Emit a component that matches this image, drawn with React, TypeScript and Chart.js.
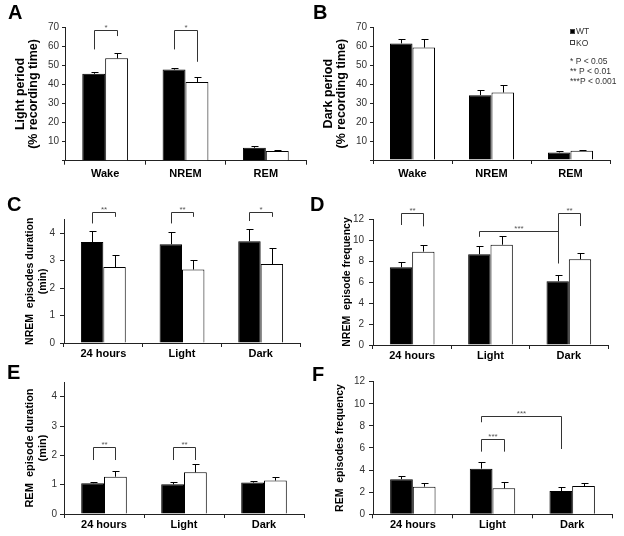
import React, { useEffect, useRef } from 'react';
import { Chart, registerables } from 'chart.js';

Chart.register(...registerables);

const FONT = '"Liberation Sans", Arial, Helvetica, sans-serif';

// ---------- categories ----------
const sleepStates = ['Wake', 'NREM', 'REM'];
const periods = ['24 hours', 'Light', 'Dark'];
const seriesNames = ['WT', 'KO'];
const sigNotes = ['* P < 0.05', '** P < 0.01', '***P < 0.001'];

// ---------- A: light period (% recording time) ----------
const lightWT = [45.6, 47.8, 6.8];
const lightWTErr = [1.1, 0.9, 0.9];
const lightKO = [53.7, 41.3, 5.1];
const lightKOErr = [3.0, 2.4, 0.5];

// ---------- B: dark period (% recording time) ----------
const darkWT = [61.5, 34.2, 4.0];
const darkWTErr = [2.5, 2.8, 0.5];
const darkKO = [59.3, 35.6, 4.9];
const darkKOErr = [4.4, 3.9, 0.5];

// ---------- C: NREM episodes duration (min) ----------
const nremDurWT = [3.68, 3.6, 3.71];
const nremDurWTErr = [0.4, 0.46, 0.44];
const nremDurKO = [2.77, 2.68, 2.88];
const nremDurKOErr = [0.45, 0.34, 0.59];

// ---------- D: NREM episode frequency ----------
const nremFreqWT = [7.4, 8.64, 6.07];
const nremFreqWTErr = [0.48, 0.79, 0.6];
const nremFreqKO = [8.89, 9.55, 8.16];
const nremFreqKOErr = [0.61, 0.83, 0.57];

// ---------- E: REM episode duration (min) ----------
const remDurWT = [1.05, 1.01, 1.07];
const remDurWTErr = [0.05, 0.07, 0.07];
const remDurKO = [1.27, 1.42, 1.14];
const remDurKOErr = [0.21, 0.29, 0.11];

// ---------- F: REM episodes frequency ----------
const remFreqWT = [3.17, 4.13, 2.1];
const remFreqWTErr = [0.32, 0.57, 0.34];
const remFreqKO = [2.5, 2.35, 2.56];
const remFreqKOErr = [0.3, 0.55, 0.24];

// ---------- significance brackets: from/to = [categoryIndex, seriesIndex] ----------
const lightSig = [
  { from: [0, 0], to: [0, 1], top: 68.8, leftEnd: 58.4, rightEnd: 65.4, label: '*' },
  { from: [1, 0], to: [1, 1], top: 68.8, leftEnd: 58.4, rightEnd: 51.9, label: '*' },
];
const nremDurSig = [
  { from: [0, 0], to: [0, 1], top: 4.79, leftEnd: 4.36, rightEnd: 4.6, label: '**' },
  { from: [1, 0], to: [1, 1], top: 4.79, leftEnd: 4.36, rightEnd: 4.6, label: '**' },
  { from: [2, 0], to: [2, 1], top: 4.79, leftEnd: 4.45, rightEnd: 4.6, label: '*' },
];
const nremFreqSig = [
  { from: [0, 0], to: [0, 1], top: 12.54, leftEnd: 11.43, rightEnd: 11.3, label: '**' },
  { from: [1, 0], to: [2, 0], top: 10.89, leftEnd: 10.3, rightEnd: 7.78, label: '***' },
  { from: [2, 0], to: [2, 1], top: 12.54, leftEnd: 7.78, rightEnd: 11.33, label: '**' },
];
const remDurSig = [
  { from: [0, 0], to: [0, 1], top: 2.27, leftEnd: 1.84, rightEnd: 1.84, label: '**' },
  { from: [1, 0], to: [1, 1], top: 2.27, leftEnd: 1.84, rightEnd: 1.84, label: '**' },
];
const remFreqSig = [
  { from: [1, 0], to: [1, 1], top: 6.81, leftEnd: 5.67, rightEnd: 5.67, label: '***' },
  { from: [1, 0], to: [2, 0], top: 8.92, leftEnd: 8.33, rightEnd: 5.91, label: '***' },
];

// ---------- panel definitions (layout kept separate from data) ----------
const panels: any[] = [
  {
    letter: 'A', categories: sleepStates, wt: lightWT, wtErr: lightWTErr, ko: lightKO, koErr: lightKOErr,
    yTitle: ['Light period', '(% recording time)'], max: 70, step: 10, hideZero: true, sig: lightSig,
    layout: { box: { x: 0, y: 0, w: 312, h: 182 }, plot: { left: 65, right: 306, top: 27.3, bottom: 160.7 },
      titleLeft: 14.5, titleSize: 12.5, titleLH: 1.0, xPad: 3, yTickLen: 3, yTickPad: 3, letterPos: { x: 8, y: 5 } },
  },
  {
    letter: 'B', categories: sleepStates, wt: darkWT, wtErr: darkWTErr, ko: darkKO, koErr: darkKOErr,
    yTitle: ['Dark period', '(% recording time)'], max: 70, step: 10, hideZero: true, sig: [], legend: true,
    layout: { box: { x: 312, y: 0, w: 312, h: 182 }, plot: { left: 373, right: 610, top: 27.3, bottom: 160 },
      titleLeft: 322.75, titleSize: 12.5, titleLH: 1.0, xPad: 3, yTickLen: 3, yTickPad: 3, letterPos: { x: 313, y: 5 },
      legendPos: { x: 258, rows: [31.7, 43.3, 61.7, 71.7, 81.7] } },
  },
  {
    letter: 'C', categories: periods, wt: nremDurWT, wtErr: nremDurWTErr, ko: nremDurKO, koErr: nremDurKOErr,
    yTitle: ['NREM  episodes duration', '(min)'], max: 4.5, step: 1, hideZero: false, sig: nremDurSig,
    layout: { box: { x: 0, y: 182, w: 312, h: 182 }, plot: { left: 64, right: 300, top: 219.6, bottom: 343 },
      titleLeft: 23.5, titleSize: 10.5, titleLH: 1.24, xPad: 0, yTickLen: 4, yTickPad: 5, letterPos: { x: 7, y: 196.5 } },
  },
  {
    letter: 'D', categories: periods, wt: nremFreqWT, wtErr: nremFreqWTErr, ko: nremFreqKO, koErr: nremFreqKOErr,
    yTitle: 'NREM  episode frequency', max: 12, step: 2, hideZero: false, sig: nremFreqSig,
    layout: { box: { x: 312, y: 182, w: 312, h: 182 }, plot: { left: 373, right: 608, top: 219, bottom: 345 },
      titleLeft: 340.5, titleSize: 10.5, titleLH: 1.24, xPad: 0, yTickLen: 4, yTickPad: 5, letterPos: { x: 310, y: 196.5 } },
  },
  {
    letter: 'E', categories: periods, wt: remDurWT, wtErr: remDurWTErr, ko: remDurKO, koErr: remDurKOErr,
    yTitle: ['REM  episode duration', '(min)'], max: 4.5, step: 1, hideZero: false, sig: remDurSig,
    layout: { box: { x: 0, y: 362, w: 312, h: 174 }, plot: { left: 64, right: 304, top: 382, bottom: 514 },
      titleLeft: 23.5, titleSize: 11, titleLH: 1.2, xPad: 0, yTickLen: 4, yTickPad: 3, letterPos: { x: 7, y: 365 } },
  },
  {
    letter: 'F', categories: periods, wt: remFreqWT, wtErr: remFreqWTErr, ko: remFreqKO, koErr: remFreqKOErr,
    yTitle: 'REM  episodes frequency', max: 12, step: 2, hideZero: false, sig: remFreqSig,
    layout: { box: { x: 312, y: 362, w: 312, h: 174 }, plot: { left: 373, right: 612, top: 381.7, bottom: 514.3 },
      titleLeft: 333.5, titleSize: 10.5, titleLH: 1.24, xPad: 0, yTickLen: 4, yTickPad: 4, letterPos: { x: 312, y: 367 } },
  },
];

const crisp = (v: number) => Math.round(v) + 0.5;

const annotatePlugin = {
  id: 'annotate',
  afterDatasetsDraw(chart: any, _args: any, opts: any) {
    const { ctx } = chart;
    const ys = chart.scales.y;
    ctx.save();
    ctx.lineWidth = 1;

    // error bars (upper only)
    const errs: number[][] = opts.errors || [];
    errs.forEach((err, di) => {
      const meta = chart.getDatasetMeta(di);
      const vals = chart.data.datasets[di].data as number[];
      meta.data.forEach((el: any, i: number) => {
        const x = crisp(el.x);
        const yTop = crisp(ys.getPixelForValue(vals[i] + err[i]));
        ctx.strokeStyle = '#000';
        ctx.beginPath();
        ctx.moveTo(x, el.y);
        ctx.lineTo(x, yTop);
        ctx.moveTo(x - 3, yTop);
        ctx.lineTo(x + 4, yTop);
        ctx.stroke();
      });
    });

    // significance brackets
    (opts.brackets || []).forEach((b: any) => {
      const x1 = crisp(chart.getDatasetMeta(b.from[1]).data[b.from[0]].x);
      const x2 = crisp(chart.getDatasetMeta(b.to[1]).data[b.to[0]].x);
      const yt = crisp(ys.getPixelForValue(b.top));
      const y1 = ys.getPixelForValue(b.leftEnd);
      const y2 = ys.getPixelForValue(b.rightEnd);
      ctx.strokeStyle = '#333';
      ctx.beginPath();
      ctx.moveTo(x1, y1);
      ctx.lineTo(x1, yt);
      ctx.lineTo(x2, yt);
      ctx.lineTo(x2, y2);
      ctx.stroke();
      ctx.fillStyle = '#555';
      ctx.font = `8px ${FONT}`;
      ctx.textAlign = 'center';
      ctx.textBaseline = 'alphabetic';
      ctx.fillText(b.label, (x1 + x2) / 2, yt - 1);
    });

    // legend
    const lg = opts.legend;
    if (lg) {
      ctx.font = `8.5px ${FONT}`;
      ctx.textAlign = 'left';
      ctx.textBaseline = 'middle';
      chart.data.datasets.forEach((ds: any, i: number) => {
        const yc = lg.rows[i];
        ctx.fillStyle = ds.backgroundColor;
        ctx.fillRect(lg.x, Math.round(yc - 3), 5, 5);
        ctx.strokeStyle = '#444';
        ctx.strokeRect(lg.x + 0.5, Math.round(yc - 3) + 0.5, 4, 4);
        ctx.fillStyle = '#333';
        ctx.fillText(ds.label, lg.x + 6, yc);
      });
      lg.notes.forEach((t: string, i: number) => {
        ctx.fillStyle = '#333';
        ctx.fillText(t, lg.x, lg.rows[i + 2]);
      });
    }
    ctx.restore();
  },
};

function buildConfig(p: any): any {
  const L = p.layout;
  const { box, plot } = L;
  const xHeight = 18;
  const padLeft = L.titleLeft - box.x;
  const yWidth = plot.left - L.titleLeft;
  const padRight = box.x + box.w - plot.right;
  const padTop = plot.top - box.y;
  const padBottom = box.y + box.h - plot.bottom - xHeight;

  return {
    type: 'bar',
    data: {
      labels: p.categories,
      datasets: [
        { label: seriesNames[0], data: p.wt, backgroundColor: '#000', borderColor: '#000', borderWidth: 1 },
        { label: seriesNames[1], data: p.ko, backgroundColor: '#fff', borderColor: '#000', borderWidth: 1 },
      ],
    },
    options: {
      animation: false,
      responsive: false,
      devicePixelRatio: 1,
      events: [],
      layout: { padding: { left: padLeft, right: padRight, top: padTop, bottom: padBottom } },
      datasets: { bar: { categoryPercentage: 0.57, barPercentage: 1 } },
      plugins: {
        legend: { display: false },
        tooltip: { enabled: false },
        annotate: {
          errors: [p.wtErr, p.koErr],
          brackets: p.sig,
          legend: p.legend ? { x: L.legendPos.x, rows: L.legendPos.rows, notes: sigNotes } : null,
        },
      },
      scales: {
        x: {
          z: 1,
          afterFit: (s: any) => { s.height = xHeight; },
          border: { display: true, color: '#222', width: 1 },
          grid: { display: true, drawOnChartArea: false, drawTicks: true, tickLength: 4, color: '#222', offset: true },
          ticks: { padding: L.xPad, color: '#000', font: { family: FONT, size: 11, weight: 'bold', lineHeight: 1.2 }, maxRotation: 0, autoSkip: false },
        },
        y: {
          min: 0,
          max: p.max,
          afterFit: (s: any) => { s.width = yWidth; },
          border: { display: true, color: '#222', width: 1 },
          grid: { display: true, drawOnChartArea: false, drawTicks: true, tickLength: L.yTickLen, color: '#222' },
          ticks: {
            stepSize: p.step,
            includeBounds: false,
            padding: L.yTickPad,
            color: '#333',
            font: { family: FONT, size: 10 },
            callback: (v: any) => (p.hideZero && Number(v) === 0 ? '' : String(v)),
          },
          title: {
            display: true,
            text: p.yTitle,
            color: '#000',
            padding: 0,
            font: { family: FONT, size: L.titleSize, weight: 'bold', lineHeight: L.titleLH },
          },
        },
      },
    },
    plugins: [annotatePlugin],
  };
}

function Panel({ p }: { p: any }) {
  const ref = useRef<HTMLCanvasElement>(null);
  useEffect(() => {
    if (!ref.current) return;
    const chart = new Chart(ref.current, buildConfig(p));
    return () => chart.destroy();
  }, [p]);
  const b = p.layout.box;
  return (
    <canvas
      ref={ref}
      width={b.w}
      height={b.h}
      style={{ position: 'absolute', left: b.x, top: b.y, width: b.w, height: b.h, display: 'block' }}
    />
  );
}

export default function App() {
  return (
    <div style={{ position: 'absolute', left: 0, top: 0, width: 624, height: 536, background: '#fff', overflow: 'hidden' }}>
      {panels.map((p) => (
        <Panel key={p.letter} p={p} />
      ))}
      {panels.map((p) => (
        <div
          key={'l' + p.letter}
          style={{
            position: 'absolute',
            left: p.layout.letterPos.x,
            top: p.layout.letterPos.y - 2.6,
            fontFamily: FONT,
            fontWeight: 'bold',
            fontSize: 20,
            lineHeight: '20px',
            color: '#000',
          }}
        >
          {p.letter}
        </div>
      ))}
    </div>
  );
}
